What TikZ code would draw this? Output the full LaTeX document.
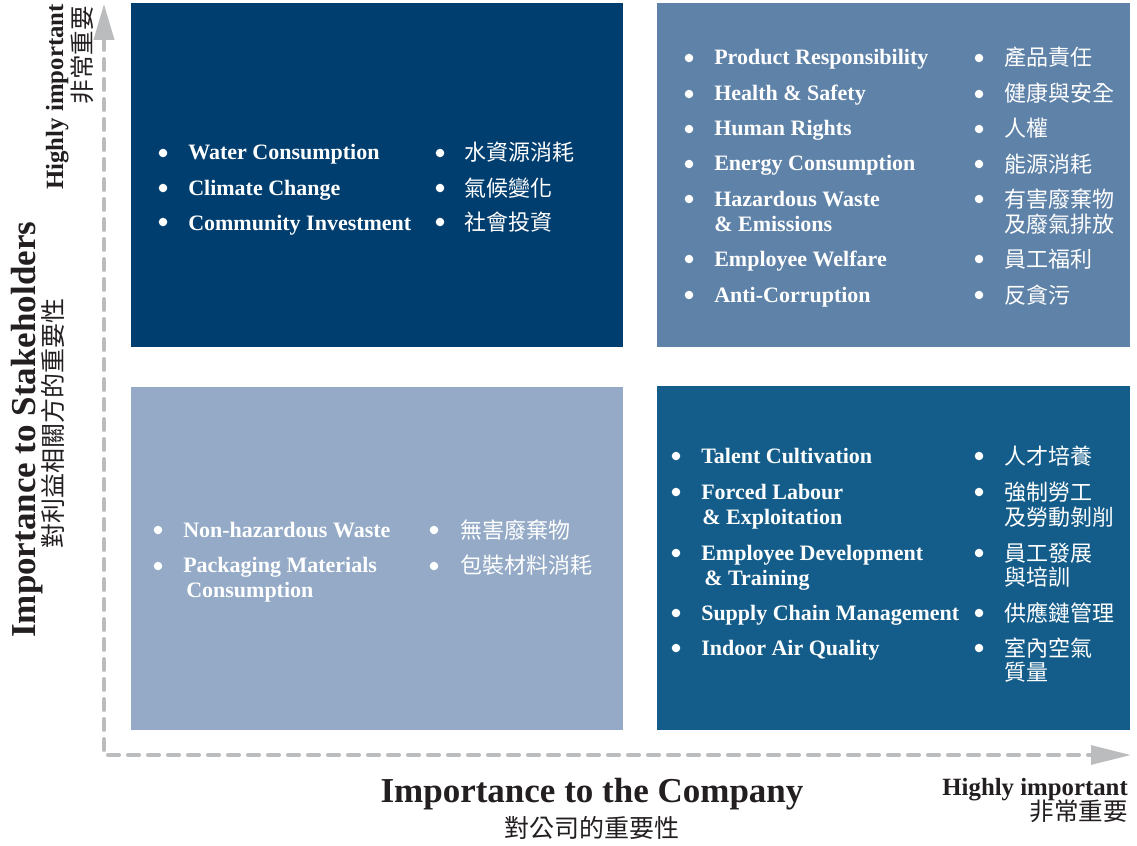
\documentclass[tikz,border=0pt]{standalone}
\usepackage{fontspec}
\setmainfont{Liberation Serif}
\newfontfamily\cjk{Noto Sans CJK TC}
\usetikzlibrary{arrows.meta}
\definecolor{qtl}{HTML}{003E6F}
\definecolor{qtr}{HTML}{5E82A8}
\definecolor{qbl}{HTML}{94AAC6}
\definecolor{qbr}{HTML}{145D8A}
\definecolor{axisgray}{HTML}{BBBCBE}
\definecolor{ink}{HTML}{231F20}
\begin{document}
\begin{tikzpicture}[x=0.75pt,y=-0.75pt,
  quad/.style={inner sep=0, outer sep=0},
  en/.style={anchor=base west, inner sep=0, text=white, font=\bfseries\fontsize{16.5}{18}\selectfont},
  zh/.style={anchor=base west, inner sep=0, text=white, font=\cjk\fontsize{16.5}{18}\selectfont},
  bul/.style={white},
  axisline/.style={draw=axisgray, line width=3pt, line cap=round, dash pattern=on 8.25pt off 6.75pt,
    {Triangle[length=27pt,width=15pt,fill=axisgray]}-{Triangle[length=30pt,width=14pt,fill=axisgray]}},
  big/.style={inner sep=0, text=ink, font=\bfseries\fontsize{26.25}{28}\selectfont},
  bigzh/.style={inner sep=0, text=ink, font=\cjk\fontsize{18.75}{20}\selectfont},
  mid/.style={inner sep=0, text=ink, font=\bfseries\fontsize{18.6}{20}\selectfont},
  midzh/.style={inner sep=0, text=ink, font=\cjk\fontsize{18.4}{20}\selectfont}]
\useasboundingbox (0,0) rectangle (1137,845);
\fill[white] (0,0) rectangle (1137,845);

% quadrants
\fill[qtl] (131,3) rectangle (623,347);
\fill[qtr] (657,3) rectangle (1130,347);
\fill[qbl] (131,387) rectangle (623,730);
\fill[qbr] (657,386) rectangle (1130,730);

% axes
\coordinate (ytop) at (104,4);
\coordinate (O) at (104,755);
\coordinate (xend) at (1131,755);
\draw[axisline] (ytop) -- (O) -- (xend);

% axis labels
\node[big, rotate=90, anchor=base west] (ylab) at (35,638) {Importance to Stakeholders};
\node[bigzh, rotate=90, anchor=base west] (ylabzh) at (62,549) {對利益相關方的重要性};
\node[mid, rotate=90, anchor=base east] (yhi) at (63,4) {Highly important};
\node[midzh, rotate=90, anchor=base east] (yhizh) at (91,6) {非常重要};
\node[big, anchor=base] (xlab) at (592,802) {Importance to the Company};
\node[bigzh, anchor=base] (xlabzh) at (592,837) {對公司的重要性};
\node[mid, anchor=base east] (xhi) at (1128,795) {Highly important};
\node[midzh, anchor=base east] (xhizh) at (1128,820) {非常重要};

% top-left quadrant
\foreach \y in {153,188,222} {\fill[bul] (163,\y) circle[radius=3.2pt]; \fill[bul] (440,\y) circle[radius=3.2pt];}
\node[en] (tl1) at (188,160) {Water Consumption};
\node[en] (tl2) at (188,195) {Climate Change};
\node[en] (tl3) at (188,230) {Community Investment};
\node[zh] (tlz1) at (464,161) {水資源消耗};
\node[zh] (tlz2) at (464,196) {氣候變化};
\node[zh] (tlz3) at (464,230) {社會投資};

% top-right quadrant
\foreach \y in {58,94,129,164,199,259,295} {\fill[bul] (689,\y) circle[radius=3.2pt]; \fill[bul] (979,\y) circle[radius=3.2pt];}
\node[en] (tr1) at (714,65) {Product Responsibility};
\node[en] (tr2) at (714,101) {Health \& Safety};
\node[en] (tr3) at (714,136) {Human Rights};
\node[en] (tr4) at (714,171) {Energy Consumption};
\node[en] (tr5) at (714,206) {Hazardous Waste};
\node[en] (tr5b) at (714,231) {\& Emissions};
\node[en] (tr6) at (714,266) {Employee Welfare};
\node[en] (tr7) at (714,302) {Anti-Corruption};
\node[zh] (trz1) at (1004,66) {產品責任};
\node[zh] (trz2) at (1004,102) {健康與安全};
\node[zh] (trz3) at (1004,137) {人權};
\node[zh] (trz4) at (1004,172) {能源消耗};
\node[zh] (trz5) at (1004,207) {有害廢棄物};
\node[zh] (trz5b) at (1004,232) {及廢氣排放};
\node[zh] (trz6) at (1004,267) {員工福利};
\node[zh] (trz7) at (1004,303) {反貪污};

% bottom-left quadrant
\foreach \y in {530,566} {\fill[bul] (158,\y) circle[radius=3.2pt]; \fill[bul] (434,\y) circle[radius=3.2pt];}
\node[en] (bl1) at (183,537) {Non-hazardous Waste};
\node[en] (bl2) at (183,572) {Packaging Materials};
\node[en] (bl2b) at (186,597) {Consumption};
\node[zh] (blz1) at (460,538) {無害廢棄物};
\node[zh] (blz2) at (460,573) {包裝材料消耗};

% bottom-right quadrant
\foreach \y in {456,492,553,613,648} {\fill[bul] (676,\y) circle[radius=3.2pt]; \fill[bul] (979,\y) circle[radius=3.2pt];}
\node[en] (br1) at (701,463) {Talent Cultivation};
\node[en] (br2) at (701,499) {Forced Labour};
\node[en] (br2b) at (702,524) {\& Exploitation};
\node[en] (br3) at (701,560) {Employee Development};
\node[en] (br3b) at (704,585) {\& Training};
\node[en] (br4) at (701,620) {Supply Chain Management};
\node[en] (br5) at (701,655) {Indoor Air Quality};
\node[zh] (brz1) at (1004,464) {人才培養};
\node[zh] (brz2) at (1004,500) {強制勞工};
\node[zh] (brz2b) at (1004,525) {及勞動剝削};
\node[zh] (brz3) at (1004,561) {員工發展};
\node[zh] (brz3b) at (1004,585) {與培訓};
\node[zh] (brz4) at (1004,621) {供應鏈管理};
\node[zh] (brz5) at (1004,656) {室內空氣};
\node[zh] (brz5b) at (1004,680) {質量};
\end{tikzpicture}
\end{document}
